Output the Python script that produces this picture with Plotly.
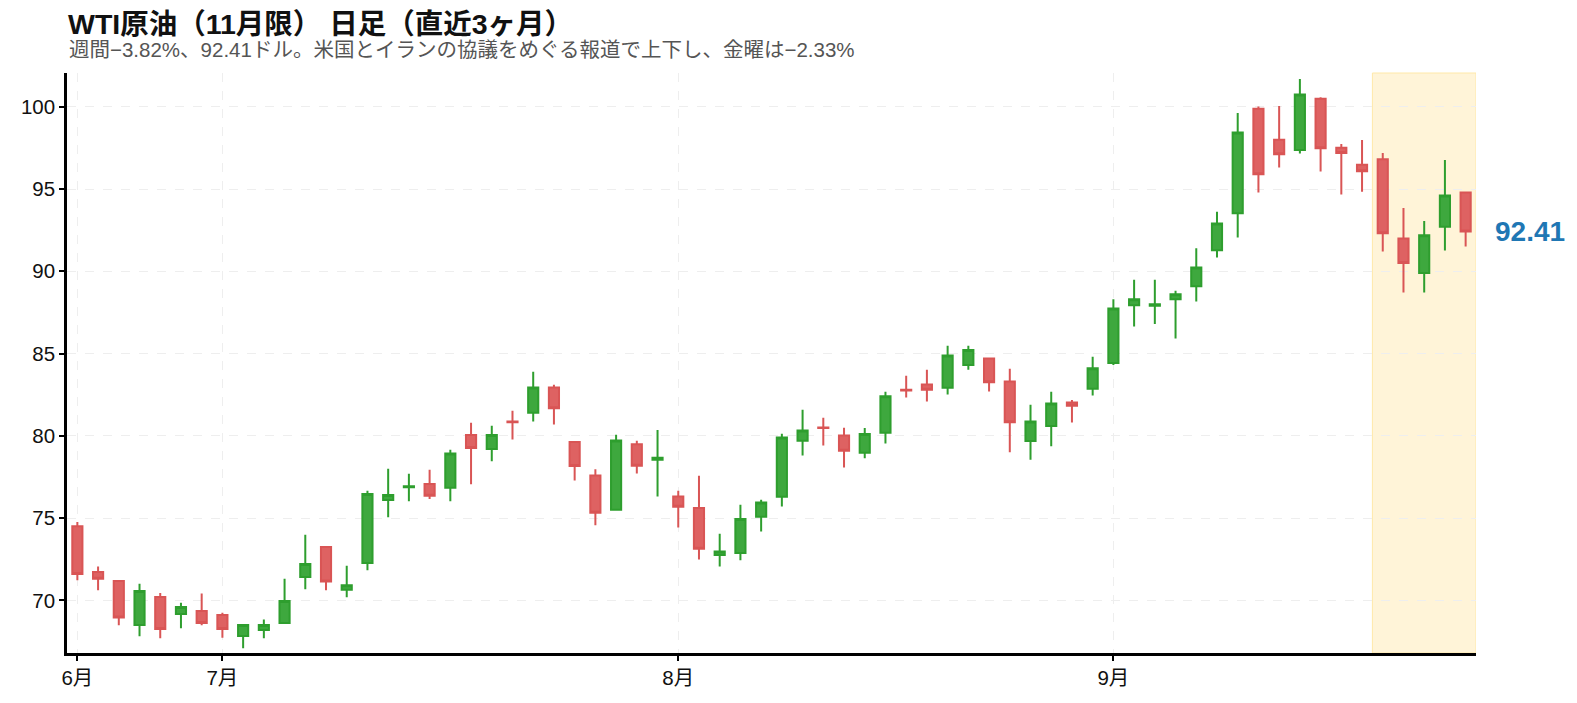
import pandas as pd
import plotly.graph_objects as go

# 営業日（6/20〜9/25、7/4と9/1は休場）
dates = [d.strftime("%Y-%m-%d") for d in pd.bdate_range("2025-06-20", "2025-09-25")
         if d.strftime("%Y-%m-%d") not in ("2025-07-04", "2025-09-01")]

open_ = [74.50, 71.72, 71.18, 68.50, 70.20, 69.17, 69.35, 69.11, 67.84, 68.20,
         68.63, 71.42, 73.24, 70.65, 72.27, 76.10, 76.88, 77.07, 76.85, 80.05,
         79.20, 80.87, 81.40, 82.94, 79.62, 77.59, 75.51, 79.49, 78.54, 76.31,
         75.61, 72.75, 72.87, 75.08, 76.29, 79.70, 80.51, 80.02, 78.97, 80.19,
         82.80, 83.12, 82.92, 84.30, 84.70, 83.30, 79.68, 80.59, 82.03, 82.86,
         84.42, 87.94, 87.90, 88.30, 89.09, 91.28, 93.53, 99.88, 98.00, 97.37,
         100.49, 97.51, 96.48, 96.81, 91.99, 89.90, 92.70, 94.78]
high = [74.76, 72.05, 71.24, 71.01, 70.45, 69.86, 70.41, 69.25, 68.57, 68.83,
        71.32, 73.99, 73.24, 72.11, 76.66, 78.00, 77.70, 77.94, 79.15, 80.79,
        80.61, 81.52, 83.89, 83.10, 79.62, 77.97, 80.06, 79.70, 80.36, 76.66,
        77.57, 74.05, 75.81, 76.11, 80.12, 81.58, 81.09, 80.49, 80.47, 82.68,
        83.65, 84.01, 85.47, 85.47, 84.70, 84.07, 81.89, 82.68, 82.17, 84.80,
        88.30, 89.48, 89.48, 88.81, 91.40, 93.61, 99.62, 100.02, 100.04, 101.68,
        100.57, 97.74, 97.98, 97.19, 93.85, 93.06, 96.76, 94.80]
low = [71.22, 70.61, 68.48, 67.82, 67.69, 68.30, 68.48, 67.73, 67.09, 67.69,
       68.63, 70.67, 70.61, 70.19, 71.83, 75.05, 76.02, 76.16, 76.02, 77.05,
       78.45, 79.78, 80.87, 80.69, 77.29, 74.57, 75.51, 77.71, 76.31, 74.43,
       72.49, 72.06, 72.43, 74.19, 75.71, 78.80, 79.41, 78.08, 78.63, 79.54,
       82.33, 82.09, 82.51, 84.01, 82.70, 79.00, 78.55, 79.36, 80.81, 82.45,
       84.31, 86.64, 86.80, 85.91, 88.16, 90.83, 92.05, 94.78, 96.30, 97.15,
       96.06, 94.66, 94.84, 91.20, 88.71, 88.71, 91.26, 91.50]
close = [71.60, 71.32, 68.95, 70.57, 68.26, 69.60, 68.63, 68.26, 68.50, 68.50,
         69.96, 72.21, 71.14, 70.92, 76.46, 76.40, 76.93, 76.36, 78.93, 79.26,
         80.05, 80.83, 82.94, 81.68, 78.16, 75.32, 79.72, 78.18, 78.66, 75.69,
         73.14, 72.97, 74.94, 75.95, 79.90, 80.32, 80.47, 79.09, 80.11, 82.41,
         82.76, 82.80, 84.88, 85.21, 83.26, 80.83, 80.87, 81.97, 81.83, 84.11,
         87.73, 88.30, 88.00, 88.61, 90.23, 92.90, 98.44, 95.89, 97.11, 100.75,
         97.47, 97.19, 96.08, 92.31, 90.51, 92.19, 94.60, 92.41]

month_labels = ["6月", "7月", "8月", "9月"]
last_week = 5  # 直近1週間（ハイライト）

# 各月の最初の営業日に目盛り
month_ticks = []
for d in dates:
    if not month_ticks or d[:7] != month_ticks[-1][:7]:
        month_ticks.append(d)

FONT = "Liberation Sans, Noto Sans CJK JP, sans-serif"
W, H = 1561, 687  # ページ余白8px込みで1577x703

fig = go.Figure()
fig.add_trace(go.Candlestick(
    x=dates, open=open_, high=high, low=low, close=close,
    increasing=dict(line=dict(color="#2e9e2e", width=2), fillcolor="#3ea83e"),
    decreasing=dict(line=dict(color="#d95555", width=2), fillcolor="#de6262"),
    hoverinfo="skip",
    showlegend=False,
))

n = len(dates)
fig.add_shape(type="rect", xref="x", yref="paper",
              x0=n - last_week - 0.5, x1=n - 0.5, y0=0, y1=1,
              fillcolor="#fff4d8", line=dict(color="#ffe8a8", width=1),
              layer="below")

fig.add_annotation(xref="paper", yref="y", x=1, y=close[-1],
                   xanchor="left", yanchor="middle", xshift=17,
                   text=f"<b>{close[-1]:.2f}</b>", showarrow=False,
                   font=dict(family=FONT, size=28, color="#1f77b4"))

fig.add_annotation(xref="paper", yref="paper", x=0, y=1.041,
                   xanchor="left", yanchor="middle", showarrow=False,
                   text="週間−3.82%、92.41ドル。米国とイランの協議をめぐる報道で上下し、金曜は−2.33%",
                   font=dict(family=FONT, size=20.5, color="#555555"))

fig.update_layout(
    width=W, height=H,
    title=dict(text="<b>WTI原油（11月限） 日足（直近3ヶ月）</b>",
               x=60 / W, xanchor="left", y=1 - 16 / H, yanchor="middle",
               font=dict(family=FONT, size=28.5, color="#111111")),
    font=dict(family=FONT, size=20.5, color="#111111"),
    plot_bgcolor="white", paper_bgcolor="white",
    margin=dict(l=59, r=93, t=65, b=42, autoexpand=False),
    xaxis=dict(type="category", range=[-0.5, n - 0.5],
               tickvals=month_ticks, ticktext=month_labels,
               rangeslider=dict(visible=False), automargin=False,
               showline=True, linecolor="black", linewidth=2.5,
               ticks="outside", ticklen=5, tickwidth=1.5, tickcolor="black",
               showgrid=True, gridcolor="#eeeeee", griddash="dash"),
    yaxis=dict(range=[66.8, 102.05], tickvals=[70, 75, 80, 85, 90, 95, 100],
               automargin=False,
               showline=True, linecolor="black", linewidth=2.5,
               ticks="outside", ticklen=5, tickwidth=1.5, tickcolor="black",
               showgrid=True, gridcolor="#eeeeee", griddash="dash",
               zeroline=False),
)

fig.write_html("out.html")
